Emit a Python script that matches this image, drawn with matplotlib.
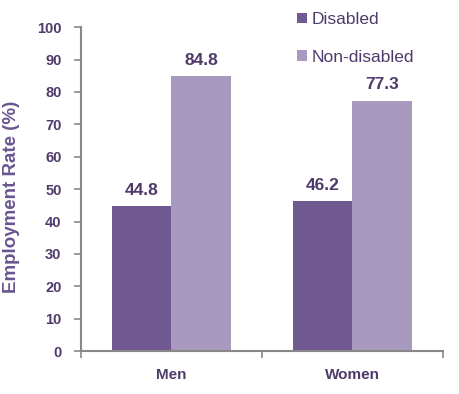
import matplotlib.pyplot as plt
import numpy as np

plt.rcParams['font.family'] = ['Liberation Sans', 'DejaVu Sans']

# data
groups = ['Men', 'Women']
series = ['Disabled', 'Non-disabled']
disabled = [44.8, 46.2]
non_disabled = [84.8, 77.3]
colors = ['#705890', '#A899BF']
text_col = '#4F3B6B'

fig = plt.figure(figsize=(4.6, 3.94), dpi=100)
ax = fig.add_axes([0.176, 0.109, 0.787, 0.822])

x = np.arange(len(groups))
w = 0.33
b1 = ax.bar(x - w / 2, disabled, w, color=colors[0], label=series[0])
b2 = ax.bar(x + w / 2, non_disabled, w, color=colors[1], label=series[1])

for bars in (b1, b2):
    for rect in bars:
        h = rect.get_height()
        ax.text(rect.get_x() + rect.get_width() / 2, h + 3.5, f'{h:.1f}',
                ha='center', va='baseline', fontsize=12.5, fontweight='bold', color=text_col)

ax.set_xlim(-0.5, 1.5)
ax.set_ylim(0, 100)
ax.set_yticks(range(0, 101, 10))
ax.set_xticks(x)
ax.set_xticklabels(groups, fontsize=11, fontweight='bold', color=text_col)
ax.set_xticks([-0.5, 0.5, 1.5], minor=True)
ax.tick_params(axis='x', which='major', length=0, pad=12)
ax.tick_params(axis='x', which='minor', length=5, width=1.2, color='#888888')
ax.tick_params(axis='y', length=5, width=1.2, color='#888888', pad=9,
               labelsize=10.5, labelcolor=text_col)
for lab in ax.get_yticklabels():
    lab.set_fontweight('bold')

ax.set_ylabel('Employment Rate (%)', fontsize=13.5, fontweight='bold', color='#6B5590')
ax.yaxis.set_label_coords(-0.168, 0.475)

for s in ['top', 'right']:
    ax.spines[s].set_visible(False)
for s in ['left', 'bottom']:
    ax.spines[s].set_color('#888888')
    ax.spines[s].set_linewidth(1.5)

leg = fig.legend(loc='upper left', bbox_to_anchor=(297 / 460, 1 - 12 / 394), frameon=False,
                 fontsize=12.5, handlelength=0.55, handleheight=0.55, handletextpad=0.3,
                 labelspacing=1.3, labelcolor=text_col, borderpad=0, borderaxespad=0)

fig.savefig('out.png', dpi=100)
